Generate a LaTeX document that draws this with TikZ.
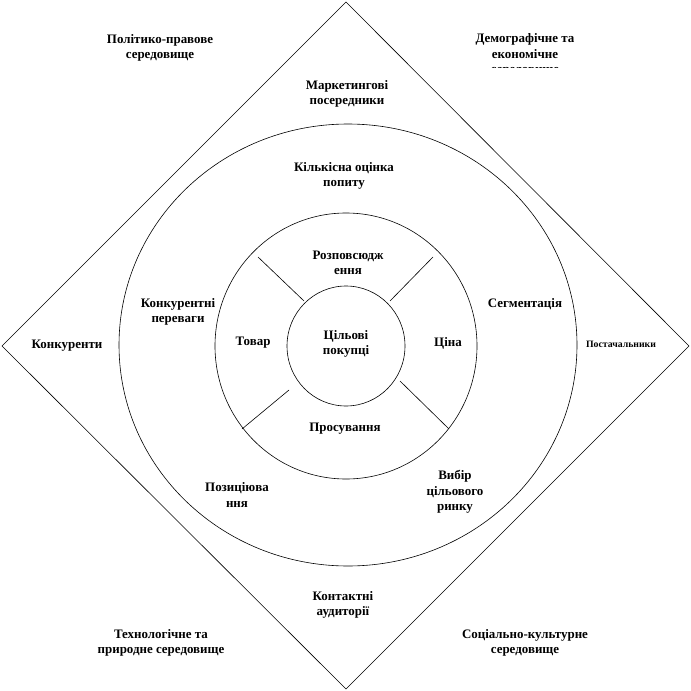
\documentclass[tikz,border=0pt]{standalone}
\usepackage{fontspec}
\setmainfont{Liberation Serif}
\usetikzlibrary{positioning}
\tikzset{
  lbl/.style={font=\fontsize{13}{15.5}\selectfont\bfseries,
              align=center,inner sep=1pt},
  smalllbl/.style={font=\fontsize{9.8}{12}\selectfont\bfseries,
                   align=center,inner sep=1pt},
  ring/.style={draw=black,line width=0.6pt},
  spoke/.style={draw=black,line width=0.6pt}
}

\begin{document}
\begin{tikzpicture}[x=1bp,y=-1bp]
  \useasboundingbox (0,0) rectangle (691,691);

  % outer diamond
  \draw[ring] (346,2) -- (689,346) -- (346,689) -- (2,346) -- cycle;

  % rings
  \draw[ring] (348,345) ellipse [x radius=229,y radius=221];
  \draw[ring] (346,346) ellipse [x radius=131,y radius=133];
  \draw[ring] (346,346) ellipse [x radius=59,y radius=60];

  % spokes between the two inner rings
  \draw[spoke] (304,301) -- (258,257);
  \draw[spoke] (390,301) -- (433,257);
  \draw[spoke] (289,390) -- (242,429);
  \draw[spoke] (400,381) -- (449,429);

  % corners: environment
  \node[lbl] (polit) at (160,48) {Політико-правове\\середовище};
  \begin{scope}
    \clip (430,20) rectangle (620,68);
    \node[lbl] (demogr) at (525,55) {Демографічне та\\економічне\\середовище};
  \end{scope}
  \node[lbl] (tech) at (161,643) {Технологічне та\\природне середовище};
  \node[lbl] (social) at (525,643) {Соціально-культурне\\середовище};

  % diamond ring
  \node[lbl] (posered) at (347,94) {Маркетингові\\посередники};
  \node[lbl] (konkur) at (67,346) {Конкуренти};
  \node[smalllbl] (postach) at (621,344) {Постачальники};
  \node[lbl] (kontakt) at (343,605) {Контактні\\аудиторії};

  % big ring
  \node[lbl] (popyt) at (344,176) {Кількісна оцінка\\попиту};
  \node[lbl] (perevag) at (178,312) {Конкурентні\\переваги};
  \node[lbl] (segment) at (525,304) {Сегментація};
  \node[lbl] (pozyc) at (237,495) {Позиціюва\\ння};
  \node[lbl] (vybir) at (455,492) {Вибір\\цільового\\ринку};

  % middle ring
  \node[lbl] (rozpov) at (348,263) {Розповсюдж\\ення};
  \node[lbl] (tovar) at (253,343) {Товар};
  \node[lbl] (cina) at (448,343) {Ціна};
  \node[lbl] (prosuv) at (345,429) {Просування};

  % centre
  \node[lbl] (pokupci) at (346,344) {Цільові\\покупці};
\end{tikzpicture}
\end{document}
